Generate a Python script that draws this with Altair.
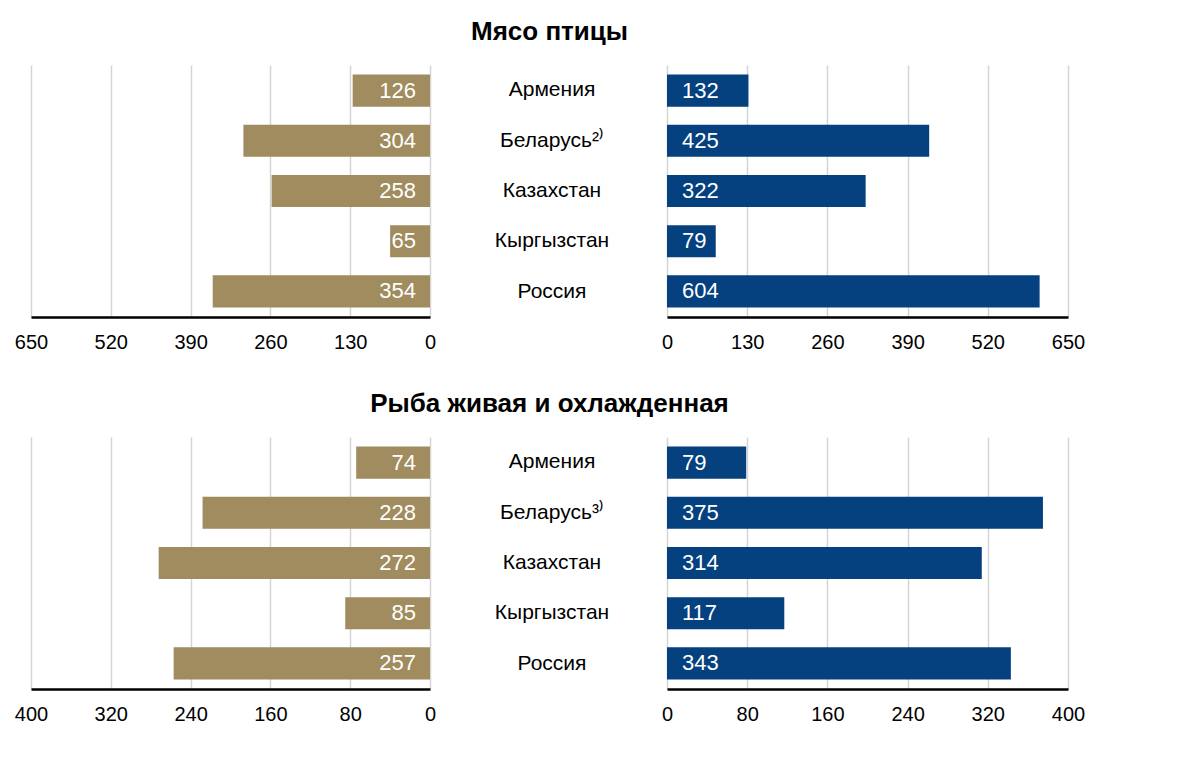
import altair as alt
import pandas as pd

countries = ["Армения", "Беларусь", "Казахстан", "Кыргызстан", "Россия"]
poultry_names = ["Армения", "Беларусь²⁾", "Казахстан", "Кыргызстан", "Россия"]
fish_names = ["Армения", "Беларусь³⁾", "Казахстан", "Кыргызстан", "Россия"]
poultry_left = [126, 304, 258, 65, 354]
poultry_right = [132, 425, 322, 79, 604]
fish_left = [74, 228, 272, 85, 257]
fish_right = [79, 375, 314, 117, 343]
poultry_ticks = [0, 130, 260, 390, 520, 650]
fish_ticks = [0, 80, 160, 240, 320, 400]
titles = ["Мясо птицы", "Рыба живая и охлажденная"]

GOLD = "#A08C5E"
NAVY = "#05407F"
FONT = "Liberation Sans"
PLOT_H = 252


def y_enc():
    return alt.Y("country:N", sort=countries, axis=None,
                 scale=alt.Scale(paddingInner=0.36, paddingOuter=0.19))


def side_panel(values, ticks, reverse, color, width, align, dx):
    df = pd.DataFrame({"country": countries, "value": values, "zero": [0] * len(values)})
    scale = alt.Scale(domain=[ticks[0], ticks[-1]], reverse=reverse, nice=False)
    axis = alt.Axis(values=ticks, title=None, grid=True, gridColor="#D4D4D4", gridWidth=1.5,
                    domainColor="#000000", domainWidth=2.5, ticks=False, labelFontSize=20,
                    labelFont=FONT, labelColor="#000000", labelPadding=15,
                    labelFlush=False, labelOverlap=False)
    base = alt.Chart(df).encode(y=y_enc())
    bars = base.mark_bar(color=color).encode(
        x=alt.X("value:Q", scale=scale, axis=axis, title=None))
    labels = base.mark_text(color="white", fontSize=22, font=FONT, align=align, dx=dx,
                            baseline="middle").encode(
        x=alt.X("zero:Q", scale=scale, axis=axis, title=None),
        text=alt.Text("value:Q"))
    return alt.layer(bars, labels).properties(width=width, height=PLOT_H)


def center_panel(names):
    df = pd.DataFrame({"country": countries, "label": names})
    return alt.Chart(df).mark_text(fontSize=21, font=FONT, color="#000000",
                                   baseline="middle").encode(
        y=y_enc(), x=alt.value(122), text="label:N"
    ).properties(width=237, height=PLOT_H)


def row(title, names, left, right, ticks):
    return alt.hconcat(
        side_panel(left, ticks, True, GOLD, 399, "right", -14),
        center_panel(names),
        side_panel(right, ticks, False, NAVY, 401, "left", 15),
        spacing=0, bounds="flush",
        title=alt.Title(title, fontSize=26, font=FONT, fontWeight="bold", color="#000000",
                        anchor="middle", offset=20),
    )


chart = alt.vconcat(
    row(titles[0], poultry_names, poultry_left, poultry_right, poultry_ticks),
    row(titles[1], fish_names, fish_left, fish_right, fish_ticks),
    spacing=39,
).properties(padding={"left": 6, "top": 11, "right": 5, "bottom": 5}).configure(
    background="white"
).configure_view(
    strokeWidth=0, stroke="transparent"
)

chart.save("out.html", embed_options={"renderer": "svg", "actions": False})
